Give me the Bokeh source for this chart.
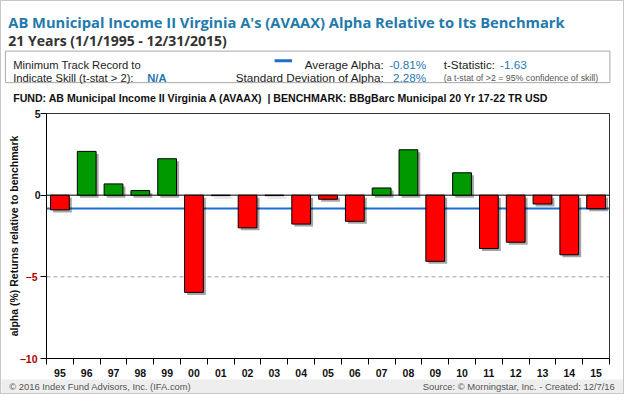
from bokeh.plotting import figure
from bokeh.models import Range1d, FixedTicker, Span, ColumnDataSource, LinearAxis
from bokeh.layouts import column
from bokeh.embed import file_html
from bokeh.resources import INLINE
from bokeh.core.properties import value
from bokeh.transform import dodge

# ---------------- data ----------------
years = ["95", "96", "97", "98", "99", "00", "01", "02", "03", "04", "05",
         "06", "07", "08", "09", "10", "11", "12", "13", "14", "15"]
alpha = [-0.90, 2.68, 0.69, 0.28, 2.23, -5.95, -0.03, -2.00, -0.03, -1.77, -0.25,
         -1.60, 0.44, 2.78, -4.05, 1.37, -3.27, -2.88, -0.54, -3.65, -0.83]
average_alpha = -0.81
std_alpha = 2.28
t_stat = -1.63
y_ticks = [-10, -5, 0, 5]
red_ticks = [-5, -10]
black_ticks = [0, 5]

TITLE = "AB Municipal Income II Virginia A's (AVAAX) Alpha Relative to Its Benchmark"
SUBTITLE = "21 Years (1/1/1995 - 12/31/2015)"
FUND = "FUND: AB Municipal Income II Virginia A (AVAAX) \u00a0| BENCHMARK: BBgBarc Municipal 20 Yr 17-22 TR USD"

W = 622
TOTAL_H = 392
SY = TOTAL_H / 410.0
H_HDR = round(110 * SY)
H_FTR = round(15 * SY)
H_MAIN = TOTAL_H - H_HDR - H_FTR

ARIAL = value("Liberation Sans")
BLUE_TXT = "#1f78b4"
TITLE_BLUE = "#237aab"


def no_align(fig):
    try:
        fig.frame_align = False
    except Exception:
        pass


# ---------------- header ----------------
hdr = figure(width=W, height=H_HDR, x_range=Range1d(0, 640), y_range=Range1d(110, 0),
             toolbar_location=None, output_backend="svg", min_border=0,
             x_axis_location=None, y_axis_location=None, outline_line_color=None)
hdr.grid.visible = False
no_align(hdr)


def htext(x, y, t, size, color="#222222", style="normal", align="left", font=ARIAL):
    hdr.text(x=[x], y=[y], text=[t], text_font=font, text_font_size=size,
             text_color=color, text_font_style=style, text_align=align,
             text_baseline="alphabetic")


htext(7, 21, TITLE, "14.7px", TITLE_BLUE, "bold", font=value("Open Sans"))
htext(7, 41, SUBTITLE, "14px", "#333333", "bold", font=value("Open Sans"))

hdr.quad(left=[4], right=[626], top=[52], bottom=[85], fill_color="white",
         line_color="#a8a8a8", line_width=1)

htext(12, 66, "Minimum Track Record to", "11.2px", "#222222")
htext(12, 80, "Indicate Skill (t-stat > 2):", "11.2px", "#222222")
htext(150, 80, "N/A", "11.2px", BLUE_TXT, "bold")

hdr.segment(x0=[281], x1=[299], y0=[62], y1=[62], line_color="#1a6fd0", line_width=3)
htext(394, 66, "Average Alpha:", "11.7px", "#222222", align="right")
htext(437, 66, f"{average_alpha:.2f}%", "11.7px", BLUE_TXT, align="right")
htext(394, 80, "Standard Deviation of Alpha:", "11.7px", "#222222", align="right")
htext(437, 80, f"{std_alpha:.2f}%", "11.7px", BLUE_TXT, align="right")
htext(455, 66, "t-Statistic:", "11.7px", "#222222")
htext(513, 66, f"{t_stat:.2f}", "11.7px", BLUE_TXT)
htext(455, 80, "(a t-stat of >2 = 95% confidence of skill)", "8.8px", "#555555")

htext(12, 101, FUND, "10.6px", "#111111", "bold")

# ---------------- main chart ----------------
src = ColumnDataSource(dict(
    x=list(range(len(years))),
    alpha=alpha,
    base=[0.0] * len(alpha),
    color=["#009900" if v >= 0 else "#ff0000" for v in alpha],
))

p = figure(width=W, height=H_MAIN, x_range=Range1d(-0.5, len(years) - 0.5),
           y_range=Range1d(-10, 5), toolbar_location=None, output_backend="svg",
           min_border_left=45, min_border_right=14, min_border_top=7, min_border_bottom=21)
p.grid.visible = False
p.outline_line_color = "#333333"
p.outline_line_width = 1
no_align(p)

# reference lines
p.add_layout(Span(location=-5, dimension="width", line_color="#a0a0a0",
                  line_dash="4 3", line_width=1, level="underlay"))
p.add_layout(Span(location=average_alpha, dimension="width", line_color="#1a6fd0",
                  line_width=2, level="underlay"))
p.add_layout(Span(location=0, dimension="width", line_color="#000000",
                  line_width=1, level="underlay"))

BW = 0.7
p.vbar(x=dodge("x", 0.095), top=dodge("alpha", -0.155), bottom=dodge("base", -0.155),
       width=BW, source=src, fill_color="#000000", fill_alpha=0.35, line_color=None)
p.vbar(x="x", top="alpha", bottom="base", width=BW, source=src,
       fill_color="color", line_color="#000000", line_width=1)

# x axis
xa = p.xaxis[0]
xa.ticker = FixedTicker(ticks=list(range(len(years))),
                        minor_ticks=[i - 0.5 for i in range(len(years) + 1)])
xa.major_label_overrides = {i: y for i, y in enumerate(years)}
xa.major_tick_out = 0
xa.major_tick_in = 0
xa.minor_tick_out = 6
xa.minor_tick_in = 0
xa.minor_tick_line_color = "#000000"
xa.axis_line_color = "#000000"
xa.major_label_standoff = 4
xa.major_label_text_font = "Liberation Sans"
xa.major_label_text_font_style = "bold"
xa.major_label_text_font_size = "10.5px"
xa.major_label_text_color = "#111111"

# y axis (black labels 5, 0)
ya = p.yaxis[0]
ya.ticker = FixedTicker(ticks=y_ticks, minor_ticks=[])
ya.major_label_overrides = {t: "" for t in red_ticks}
ya.major_tick_out = 6
ya.major_tick_in = 0
ya.major_tick_line_color = "#000000"
ya.axis_line_color = "#000000"
ya.major_label_standoff = 0
ya.major_label_text_font = "Liberation Sans"
ya.major_label_text_font_style = "bold"
ya.major_label_text_font_size = "10.5px"
ya.major_label_text_color = "#111111"

# second left axis carrying the red labels (-5, -10) and the axis title
ya2 = LinearAxis(ticker=FixedTicker(ticks=y_ticks, minor_ticks=[]))
ya2.major_label_overrides = {t: "" for t in black_ticks}
ya2.major_tick_out = 0
ya2.major_tick_in = 0
ya2.minor_tick_out = 0
ya2.minor_tick_in = 0
ya2.axis_line_color = None
ya2.major_tick_line_color = None
ya2.minor_tick_line_color = None
ya2.major_label_standoff = -6
ya2.major_label_text_font = "Liberation Sans"
ya2.major_label_text_font_style = "bold"
ya2.major_label_text_font_size = "10.5px"
ya2.major_label_text_color = "#b00000"
ya2.axis_label = "alpha (%) Returns relative to benchmark"
ya2.axis_label_text_font = "Liberation Sans"
ya2.axis_label_text_font_style = "bold"
ya2.axis_label_text_font_size = "10.5px"
ya2.axis_label_text_color = "#111111"
ya2.axis_label_standoff = -3
p.add_layout(ya2, "left")

# ---------------- footer ----------------
ftr = figure(width=W, height=H_FTR, x_range=Range1d(0, 640), y_range=Range1d(410, 395),
             toolbar_location=None, output_backend="svg", min_border=0,
             x_axis_location=None, y_axis_location=None, outline_line_color=None,
             background_fill_color="#eeeeee", border_fill_color="#eeeeee")
ftr.grid.visible = False
no_align(ftr)
ftr.text(x=[8], y=[402.5], text=["\u00a9 2016 Index Fund Advisors, Inc. (IFA.com)"],
         text_font=ARIAL, text_font_size="9.4px", text_color="#555555",
         text_baseline="middle")
ftr.text(x=[631], y=[402.5], text=["Source: \u00a9 Morningstar, Inc. - Created: 12/7/16"],
         text_font=ARIAL, text_font_size="9.4px", text_color="#555555",
         text_align="right", text_baseline="middle")

layout = column(hdr, p, ftr, spacing=0, styles={"border": "1px solid #c8c8c8"})

open("out.html", "w").write(file_html(layout, INLINE))
